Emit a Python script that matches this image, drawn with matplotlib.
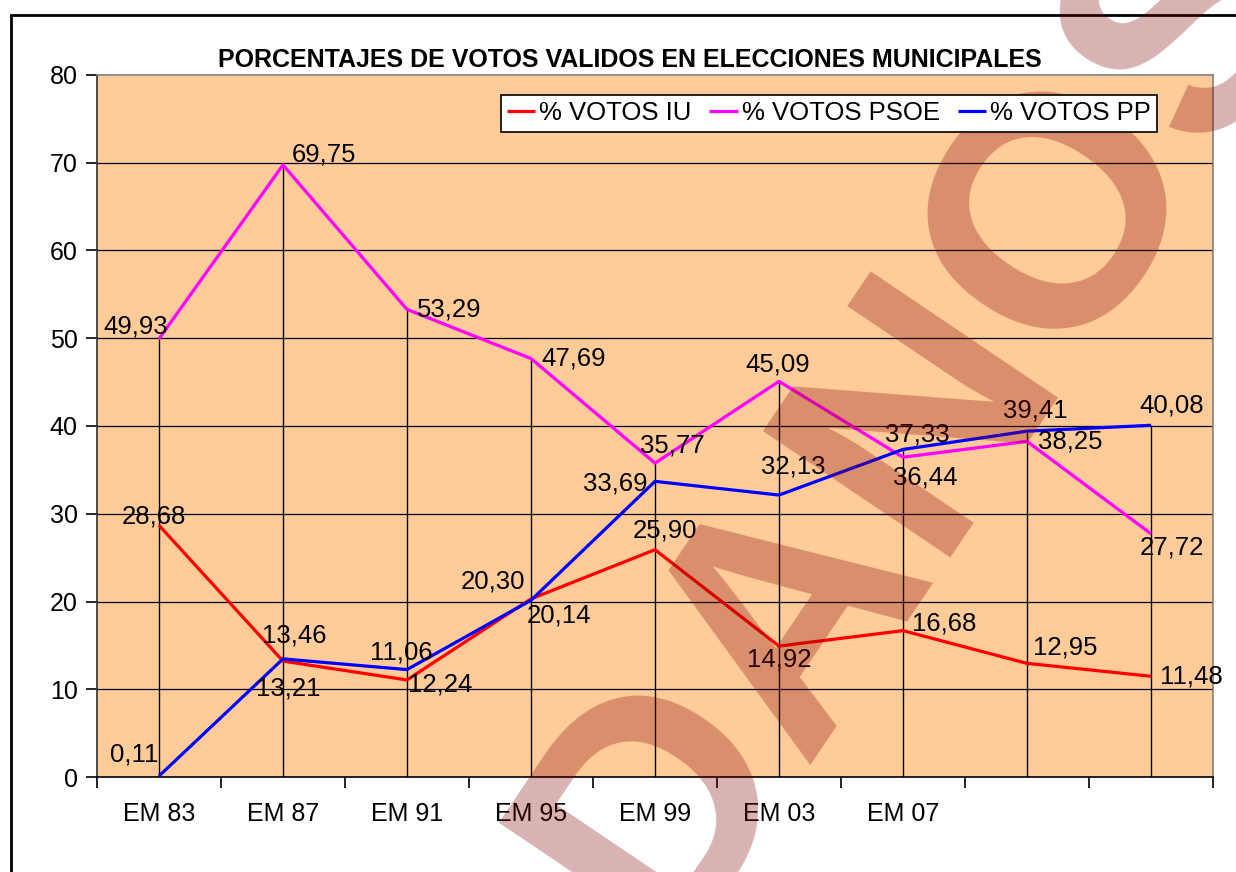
import matplotlib
matplotlib.use("Agg")
import matplotlib.pyplot as plt
from matplotlib.patches import Rectangle

plt.rcParams['font.family'] = ['Liberation Sans', 'DejaVu Sans']

# data
categories = ['EM 83', 'EM 87', 'EM 91', 'EM 95', 'EM 99', 'EM 03', 'EM 07', '', '']
iu = [28.68, 13.21, 11.06, 20.30, 25.90, 14.92, 16.68, 12.95, 11.48]
psoe = [49.93, 69.75, 53.29, 47.69, 35.77, 45.09, 36.44, 38.25, 27.72]
pp = [0.11, 13.46, 12.24, 20.14, 33.69, 32.13, 37.33, 39.41, 40.08]
names = ['% VOTOS IU', '% VOTOS PSOE', '% VOTOS PP']
title = 'PORCENTAJES DE VOTOS VALIDOS EN ELECCIONES MUNICIPALES'

# label offsets in pixels (dx right, dy down), hand placed like the original
off_iu = [(-5, -9), (5, 27), (-6, -27), (-38, -17), (10, -19), (0, 13), (41, -7), (38, -16), (40, 0)]
off_psoe = [(-23, -12), (41, -10), (42, 0), (43, 0), (17, -18), (-1, -17), (22, 20), (43, 0), (21, 14)]
off_pp = [(-25, -22), (11, -23), (33, 15), (28, 15), (-40, 2), (14, -29), (14, -15), (8, -21), (21, -20)]

fig = plt.figure(figsize=(12.36, 8.72), dpi=100)
ax = fig.add_axes([97/1236, 1 - 777/872, 1116/1236, 702/872])
ax.set_facecolor('#FFCC99')

x = list(range(len(categories)))
tops = [max(a, b, c) for a, b, c in zip(iu, psoe, pp)]
ax.vlines(x, 0, tops, color='black', lw=1, zorder=2)

for v in range(10, 80, 10):
    ax.axhline(v, color='black', lw=0.9, zorder=1)

series = [(iu, 'red', off_iu), (psoe, 'magenta', off_psoe), (pp, 'blue', off_pp)]
for (vals, col, offs), name in zip(series, names):
    ax.plot(x, vals, color=col, lw=2.3, label=name, zorder=3, solid_capstyle='butt')
    for xi, v, (dx, dy) in zip(x, vals, offs):
        ax.annotate(f'{v:.2f}'.replace('.', ','), (xi, v), xytext=(dx, -dy),
                    textcoords='offset pixels', ha='center', va='center',
                    fontsize=18.5, zorder=4)

ax.set_xlim(-0.5, len(categories) - 0.5)
ax.set_ylim(0, 80)
ax.set_yticks(range(0, 81, 10))
ax.set_xticks([i - 0.5 for i in range(len(categories) + 1)])
ax.set_xticklabels([])
ax.set_xticks(x, minor=True)
ax.set_xticklabels(categories, minor=True)
ax.tick_params(axis='x', which='minor', length=0, pad=18, labelsize=18)
ax.tick_params(axis='x', which='major', length=8, width=1.2, direction='out')
ax.tick_params(axis='y', length=8, width=1.2, direction='out', pad=6, labelsize=18)
ax.spines['top'].set_color('#808080')
ax.spines['right'].set_color('#808080')
ax.spines['left'].set_color('#303030')
ax.spines['bottom'].set_color('black')
for s in ax.spines.values():
    s.set_linewidth(1.2)

# legend on the figure so it sits above the watermark
handles, labels = ax.get_legend_handles_labels()
leg = fig.legend(handles, labels, loc='upper right', bbox_to_anchor=(1157 / 1236, 1 - 95 / 872),
                 ncol=3, fontsize=18.5, frameon=True, fancybox=False, edgecolor='black',
                 framealpha=1, handlelength=1.1, handletextpad=0.15, columnspacing=0.7,
                 borderpad=0.25, borderaxespad=0)
leg.get_frame().set_linewidth(1.2)
leg.set_zorder(11)

fig.text(630 / 1236, 1 - 60 / 872, title, ha='center', va='center',
         fontsize=18, fontweight='bold')

fig.patches.append(Rectangle((11 / 1236, -0.1), 2, 1 - 15 / 872 + 0.1, transform=fig.transFigure,
                             fill=False, edgecolor='black', lw=2))

# watermark
fig.text(996 / 1236, 1 - 459 / 872, 'DANOS', ha='center', va='baseline', rotation=56,
         rotation_mode='anchor', fontsize=236, fontweight='bold', color='#800000',
         alpha=0.3, zorder=10)

fig.savefig('out.png', dpi=100)
